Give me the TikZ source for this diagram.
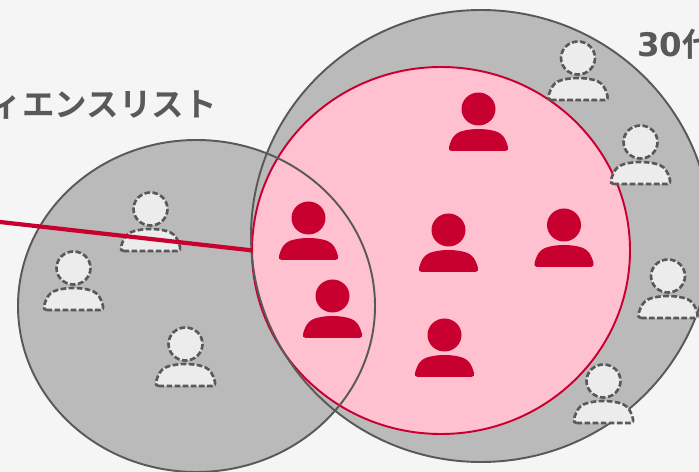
\documentclass[tikz,border=0pt]{standalone}
\usepackage{fontspec}
\newfontfamily\jpfont{Noto Sans CJK JP}[BoldFont={Noto Sans CJK JP Bold}]
\newfontfamily\digitfont{DejaVu Sans Bold}
\definecolor{bggray}{HTML}{F5F5F5}
\definecolor{circlegray}{HTML}{BABABA}
\definecolor{linegray}{HTML}{595959}
\definecolor{lightgray}{HTML}{ECECEC}
\definecolor{redfill}{HTML}{C8002F}
\definecolor{pinkfill}{HTML}{FFC0CF}
\tikzset{
	grouplabel/.style={font=\jpfont\bfseries\fontsize{18.5pt}{20pt}\selectfont, text=linegray, inner sep=0pt},
	personred/.style={fill=redfill},
	persondash/.style={fill=lightgray, draw=linegray, line width=1.5pt, dash pattern=on 3.2pt off 1.4pt},
	circleline/.style={draw=linegray, line width=1.1pt}
}
\newcommand{\person}[3]{
	\begin{scope}[shift={(#1, #2)}]
		\path[#3] (0, 0) ellipse(17 and 16.5);
		\path[#3] (-27, 42) -- (27, 42)
			.. controls (29.5, 42) and (30, 40) .. (29.5, 38)
			.. controls (27, 29) and (24, 23.5) .. (14, 21.5)
			.. controls (5, 19.5) and (-5, 19.5) .. (-14, 21.5)
			.. controls (-24, 23.5) and (-27, 29) .. (-29.5, 38)
			.. controls (-30, 40) and (-29.5, 42) .. (-27, 42) -- cycle;
	\end{scope}
}

\begin{document}
\begin{tikzpicture}[x=0.02cm, y=-0.02cm]
	\coordinate (topleft) at (0, 0);
	\coordinate (bottomright) at (699, 472);
	\coordinate (bigcenter) at (481, 236);
	\coordinate (smallcenter) at (196.5, 306);
	\coordinate (pinkcenter) at (441, 250.5);
	\coordinate (linestart) at (0, 222);
	\coordinate (lineend) at (253, 250.5);
	\useasboundingbox (topleft) rectangle (bottomright);
	\clip (topleft) rectangle (bottomright);
	\fill[bggray] (topleft) rectangle (bottomright);
	\fill[circlegray] (bigcenter) ellipse(230 and 226);
	\fill[circlegray] (smallcenter) ellipse(178.5 and 166);
	\draw[redfill, line width=1.1pt, fill=pinkfill] (pinkcenter) ellipse(189 and 183.5);
	\draw[circleline] (bigcenter) ellipse(230 and 226);
	\draw[circleline] (smallcenter) ellipse(178.5 and 166);
	\node[grouplabel, anchor=base east] (listlabel) at (217, 117) {ィエンスリスト};
	\node[grouplabel, anchor=base west] (agelabel) at (637, 57) {{\digitfont 30}代};
	\foreach \x/\y in {578/58, 640.5/142, 668/276, 603.5/381, 150.5/209, 73.5/268, 185.5/344}
	{\person{\x}{\y}{persondash}}
	\draw[redfill, line width=2.4pt] (linestart) -- (lineend);
	\foreach \x/\y in {478.5/109, 308.5/218, 332.5/296, 448.5/230, 564/225, 444.5/335}
	{\person{\x}{\y}{personred}}
\end{tikzpicture}
\end{document}
